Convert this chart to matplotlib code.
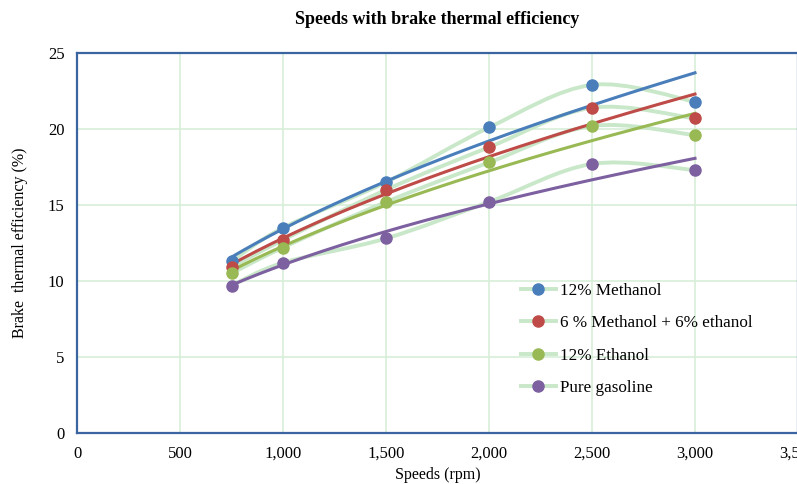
import numpy as np
import matplotlib.pyplot as plt
from matplotlib.path import Path
from matplotlib.patches import PathPatch
from matplotlib.lines import Line2D
from matplotlib.ticker import FuncFormatter

plt.rcParams['font.family'] = ['Liberation Serif', 'DejaVu Serif']

# --- data ---
speeds = [750, 1000, 1500, 2000, 2500, 3000]
methanol = [11.3, 13.5, 16.5, 20.1, 22.9, 21.8]
blend = [10.9, 12.7, 16.0, 18.8, 21.4, 20.7]
ethanol = [10.5, 12.2, 15.2, 17.8, 20.2, 19.6]
gasoline = [9.7, 11.2, 12.8, 15.2, 17.7, 17.3]

labels = ['12% Methanol', '6 % Methanol + 6% ethanol', '12% Ethanol', 'Pure gasoline']
colors = ['#4a7ebb', '#be4b48', '#98b954', '#7d60a0']
smooth_color = '#c9e7c9'
grid_color = '#d8eed8'
spine_color = '#3a65a0'


def smooth_path(xs, ys):
    # Excel style smoothed line: cubic bezier segments through the points
    pts = np.column_stack([xs, ys]).astype(float)
    n = len(pts)
    verts = [pts[0]]
    codes = [Path.MOVETO]
    for i in range(n - 1):
        p0 = pts[i - 1] if i > 0 else pts[i]
        p1 = pts[i]
        p2 = pts[i + 1]
        p3 = pts[i + 2] if i + 2 < n else pts[i + 1]
        c1 = p1 + (p2 - p0) / 6.0
        c2 = p2 - (p3 - p1) / 6.0
        verts += [c1, c2, p2]
        codes += [Path.CURVE4] * 3
    return Path(verts, codes)


fig = plt.figure(figsize=(7.97, 4.84), dpi=100)
ax = fig.add_axes([77 / 797, 51 / 484, 721 / 797, 380 / 484])

series = [methanol, blend, ethanol, gasoline]
xs = np.array(speeds, dtype=float)
for vals, col in zip(series, colors):
    ax.add_patch(PathPatch(smooth_path(xs, vals), facecolor='none',
                           edgecolor=smooth_color, lw=2.8, zorder=2))

# power trendlines
xt = np.linspace(750, 3000, 200)
for vals, col in zip(series, colors):
    b, lna = np.polyfit(np.log(xs), np.log(vals), 1)
    ax.plot(xt, np.exp(lna) * xt ** b, color=col, lw=2.2, zorder=3)

for vals, col in zip(series, colors):
    ax.plot(xs, vals, 'o', color=col, ms=8, zorder=4)

ax.set_xlim(0, 3500)
ax.set_ylim(0, 25)
ax.set_xticks(np.arange(0, 3501, 500))
ax.set_yticks(np.arange(0, 26, 5))
ax.xaxis.set_major_formatter(FuncFormatter(lambda v, p: f'{int(v):,}'))
ax.grid(True, color=grid_color, lw=1.2)
ax.set_axisbelow(True)
for s in ax.spines.values():
    s.set_color(spine_color)
    s.set_linewidth(1.6)
ax.tick_params(length=0, labelsize=12, pad=9)

ax.set_title('Speeds with brake thermal efficiency', fontsize=13,
             fontweight='bold', pad=21)
ax.set_xlabel('Speeds (rpm)', fontsize=11.5, labelpad=4)
ax.set_ylabel('Brake  thermal efficiency (%)', fontsize=11.5, labelpad=14)

handles = [Line2D([0], [0], color=smooth_color, lw=2.8, marker='o',
                  markerfacecolor=c, markeredgecolor=c, ms=8) for c in colors]
ax.legend(handles, labels, loc='upper left', bbox_to_anchor=(0.595, 0.435),
          frameon=False, fontsize=12.3, labelspacing=0.95, handlelength=2.0,
          handletextpad=0.25)

fig.savefig('out.png', dpi=100)
